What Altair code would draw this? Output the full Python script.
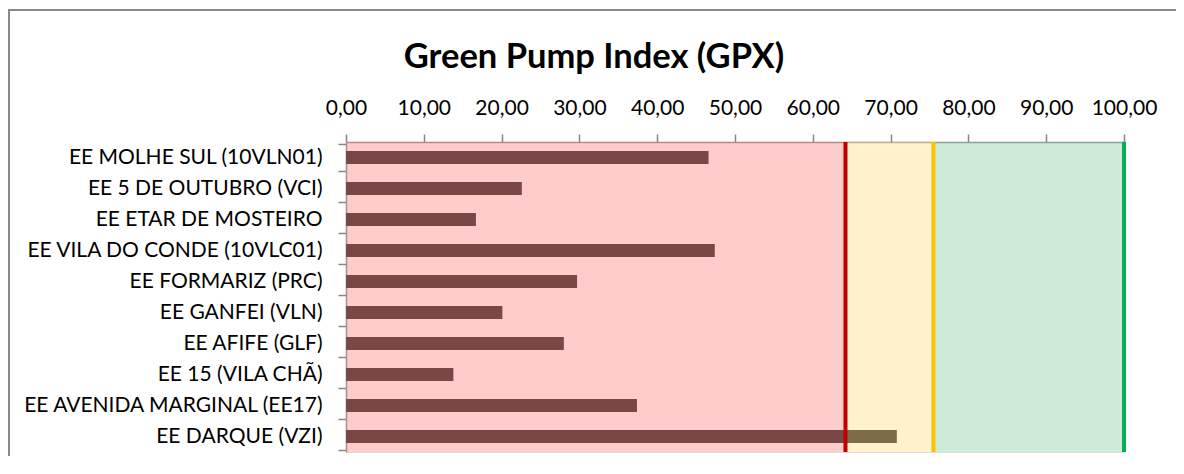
import altair as alt
import pandas as pd

stations = [
    "EE MOLHE SUL (10VLN01)",
    "EE 5 DE OUTUBRO (VCI)",
    "EE ETAR DE MOSTEIRO",
    "EE VILA DO CONDE (10VLC01)",
    "EE FORMARIZ (PRC)",
    "EE GANFEI (VLN)",
    "EE AFIFE (GLF)",
    "EE 15 (VILA CHÃ)",
    "EE AVENIDA MARGINAL (EE17)",
    "EE DARQUE (VZI)",
]
gpx = [46.6, 22.6, 16.7, 47.4, 29.7, 20.1, 28.0, 13.8, 37.4, 70.8]

zone_start = [0, 64.2, 75.5]
zone_end = [64.2, 75.5, 100]
zone_colors = ["#ff8e8e", "#ffe28e", "#8ed5ab"]

limits = [64.2, 75.5, 100]
limit_colors = ["#c00000", "#ffc000", "#00b050"]

tick_values = [0, 10, 20, 30, 40, 50, 60, 70, 80, 90, 100]
title_text = ["Green Pump Index (GPX)"]

bars_df = pd.DataFrame({"station": stations, "gpx": gpx})
zones_df = pd.DataFrame({"start": zone_start, "end": zone_end, "color": zone_colors})
limits_df = pd.DataFrame({"limit": limits, "color": limit_colors})
frame_df = pd.DataFrame({"k": [0]})
title_df = pd.DataFrame({"t": title_text})

W, H = 778, 310
FONT = "Lato"

xscale = alt.Scale(domain=[0, 100], nice=False, zero=True)

border_left = alt.Chart(frame_df).mark_rect(color="#898989").encode(
    x=alt.value(-338), x2=alt.value(-336), y=alt.value(-133), y2=alt.value(H + 100),
)
border_top = alt.Chart(frame_df).mark_rect(color="#898989").encode(
    x=alt.value(-338), x2=alt.value(W + 60), y=alt.value(-133), y2=alt.value(-131),
)

title = alt.Chart(title_df).mark_text(
    font=FONT, fontSize=34.5, fontWeight="bold", color="#000000",
    align="center", baseline="alphabetic"
).encode(text="t:N", x=alt.value(248), y=alt.value(-74))

bars = alt.Chart(bars_df).mark_bar(color="#0e0e0e", size=13).encode(
    y=alt.Y("station:N", sort=stations, title=None,
            axis=alt.Axis(labelFont=FONT, labelFontSize=21, labelColor="#000000",
                          labelPadding=16, tickSize=8, tickColor="#868686",
                          domainColor="#868686", domainWidth=1.5, tickWidth=1.5,
                          tickBand="extent", labelLimit=400)),
    x=alt.X("gpx:Q", scale=xscale, title=None,
            axis=alt.Axis(orient="top", values=tick_values,
                          labelExpr="replace(format(datum.value, '.2f'), '.', ',')",
                          labelFont=FONT, labelFontSize=21, labelColor="#000000",
                          labelPadding=16, tickSize=8, tickColor="#868686",
                          tickWidth=1.5, domainColor="#868686", domainWidth=1.5,
                          grid=False, labelFlush=False)),
)

zones = alt.Chart(zones_df).mark_rect(opacity=0.45).encode(
    x=alt.X("start:Q", scale=xscale),
    x2="end:Q",
    color=alt.Color("color:N", scale=None),
)

rules = alt.Chart(limits_df).mark_rule(strokeWidth=4).encode(
    x=alt.X("limit:Q", scale=xscale),
    color=alt.Color("color:N", scale=None),
)

chart = alt.layer(border_left, border_top, title, bars, zones, rules).properties(
    width=W, height=H,
    autosize=alt.AutoSizeParams(type="none"),
    padding={"left": 338, "top": 134, "right": 52, "bottom": 4},
).configure_view(stroke=None).configure(background="white")

chart.save("out.html", embed_options={"renderer": "svg", "actions": False})
